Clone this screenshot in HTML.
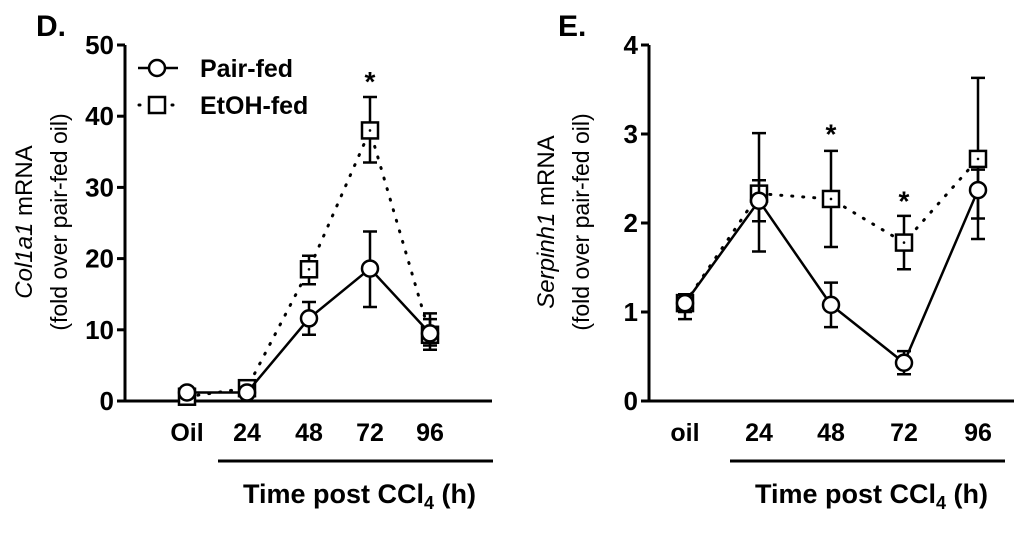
<!DOCTYPE html>
<html><head><meta charset="utf-8"><style>
body{margin:0;background:#fff;}
svg{display:block;font-family:"Liberation Sans",Arial,sans-serif;}
</style></head><body>
<svg id="s" width="1024" height="535" viewBox="0 0 1024 535"></svg>
<script>
const catsD=["Oil","24","48","72","96"];
const pairD=[1.2,1.2,11.6,18.6,9.5];
const pairDlo=[0.8,0.9,9.3,13.2,7.2];
const pairDhi=[1.6,1.5,13.9,23.8,11.5];
const etohD=[0.6,1.8,18.5,38.0,9.3];
const etohDlo=[0.3,1.4,16.4,33.5,7.8];
const etohDhi=[0.9,2.2,20.4,42.7,12.3];
const ticksD=[0,10,20,30,40,50];
const catsE=["oil","24","48","72","96"];
const pairE=[1.1,2.25,1.08,0.43,2.37];
const pairElo=[0.92,2.02,0.83,0.3,2.05];
const pairEhi=[1.2,2.48,1.33,0.56,2.6];
const etohE=[1.1,2.33,2.27,1.78,2.72];
const etohElo=[1.0,1.68,1.73,1.48,1.82];
const etohEhi=[1.18,3.01,2.81,2.08,3.63];
const ticksE=[0,1,2,3,4];
const NS="http://www.w3.org/2000/svg";
const svg=document.getElementById('s');
function mk(t,a,p){const e=document.createElementNS(NS,t);for(const k in a)e.setAttribute(k,a[k]);(p||svg).appendChild(e);return e;}
function panel(o){
 const g=mk('g',{});
 
 
 const y=v=>o.y0-(v/o.max)*(o.y0-o.y1);
 const x=i=>o.xs[i];
 let t=mk('text',{x:o.letterX,y:36,'font-size':30,'font-weight':'bold'},g);t.textContent=o.letter;
 
 let ax=mk('line',{x1:o.ax,y1:o.y1,x2:o.ax,y2:o.y0,stroke:'#000','stroke-width':3},g);
 
 let xa=mk('line',{x1:o.ax-8,y1:o.y0,x2:o.axEnd,y2:o.y0,stroke:'#000','stroke-width':3},g);
 
 o.ticks.forEach(v=>{
  const l=mk('line',{x1:o.ax-8,y1:y(v),x2:o.ax,y2:y(v),stroke:'#000','stroke-width':3},g);
  
  const tt=mk('text',{x:o.ax-11,y:y(v)+9,'font-size':26,'font-weight':'bold','text-anchor':'end'},g);tt.textContent=v;
  
 });
 o.cats.forEach((c,i)=>{
  const tt=mk('text',{x:x(i),y:441,'font-size':25,'font-weight':'bold','text-anchor':'middle'},g);tt.textContent=c;
  
 });
 let ul=mk('line',{x1:o.ulx1,y1:461,x2:o.ulx2,y2:461,stroke:'#000','stroke-width':3},g);
 
 const xt=mk('text',{x:(o.ulx1+o.ulx2)/2+4,y:503,'font-size':27,'font-weight':'bold','text-anchor':'middle'},g);
 xt.innerHTML='Time post CCl<tspan font-size="18" dy="6">4</tspan><tspan dy="-6"> (h)</tspan>';
 
 const yt=mk('text',{transform:`translate(${o.ytx},222) rotate(-90)`,'font-size':24,'text-anchor':'middle'},g);
 yt.innerHTML=`<tspan font-style="italic">${o.gene}</tspan> mRNA`;
 
 const yt2=mk('text',{transform:`translate(${o.ytx+35},222) rotate(-90)`,'font-size':23,'text-anchor':'middle'},g);
 yt2.textContent='(fold over pair-fed oil)';
 
 function series(vals,lo,hi,dash,shape,name){
  const sg=mk('g',{},g);
  
  const pts=vals.map((v,i)=>x(i)+','+y(v)).join(' ');
  const pl=mk('polyline',{points:pts,fill:'none',stroke:'#000','stroke-width':dash?3:2.5,'stroke-dasharray':dash?'1 10':'none','stroke-linecap':'round'},sg);
  
  vals.forEach((v,i)=>{
   const e=mk('path',{d:`M${x(i)},${y(lo[i])}V${y(hi[i])}M${x(i)-7},${y(lo[i])}h14M${x(i)-7},${y(hi[i])}h14`,stroke:'#000','stroke-width':2.5,fill:'none'},sg);
   
   let m;
   if(shape==='c')m=mk('circle',{cx:x(i),cy:y(v),r:8,fill:'#fff',stroke:'#000','stroke-width':2.5},sg);
   else m=mk('rect',{x:x(i)-8,y:y(v)-8,width:16,height:16,fill:'#fff',stroke:'#000','stroke-width':2.5},sg);
   
   if(shape!=='c'){const d=mk('circle',{cx:x(i),cy:y(v),r:1.3,fill:'#000'},sg);}
  });
 }
 series(o.etoh,o.elo,o.ehi,true,'s','etoh-fed-series');
 series(o.pair,o.plo,o.phi,false,'c','pair-fed-series');
 o.stars.forEach(s=>{
  const st=mk('text',{x:x(s[0]),y:y(s[1])+14,'font-size':28,'font-weight':'bold','text-anchor':'middle'},g);st.textContent='*';
  
 });
}
panel({name:'panel-d-col1a1',letter:'D.',letterX:36,ax:125,axEnd:492,y0:401,y1:45,max:50,ticks:ticksD,cats:catsD,xs:[187,247,309,370,430],ulx1:218,ulx2:493,ytx:32,gene:'Col1a1',
 pair:pairD,plo:pairDlo,phi:pairDhi,etoh:etohD,elo:etohDlo,ehi:etohDhi,stars:[[3,45.5]]});
panel({name:'panel-e-serpinh1',letter:'E.',letterX:558,ax:649,axEnd:1014,y0:401,y1:45,max:4,ticks:ticksE,cats:catsE,xs:[685,759,831,904,978],ulx1:730,ulx2:1005,ytx:554,gene:'Serpinh1',
 pair:pairE,plo:pairElo,phi:pairEhi,etoh:etohE,elo:etohElo,ehi:etohEhi,stars:[[2,3.05],[3,2.3]]});
// legend
const lg=mk('g',{});

let l1=mk('line',{x1:138,y1:68,x2:178,y2:68,stroke:'#000','stroke-width':2.5},lg);

let c1=mk('circle',{cx:157,cy:68,r:8,fill:'#fff',stroke:'#000','stroke-width':2.5},lg);

let t1=mk('text',{x:200,y:77,'font-size':25,'font-weight':'bold'},lg);t1.textContent='Pair-fed';

let l2=mk('line',{x1:139,y1:105,x2:178,y2:105,stroke:'#000','stroke-width':3,'stroke-dasharray':'1 10','stroke-linecap':'round'},lg);

let r2=mk('rect',{x:149,y:97,width:16,height:16,fill:'#fff',stroke:'#000','stroke-width':2.5},lg);

let t2=mk('text',{x:200,y:114,'font-size':25,'font-weight':'bold'},lg);t2.textContent='EtOH-fed';

</script>
</body></html>
